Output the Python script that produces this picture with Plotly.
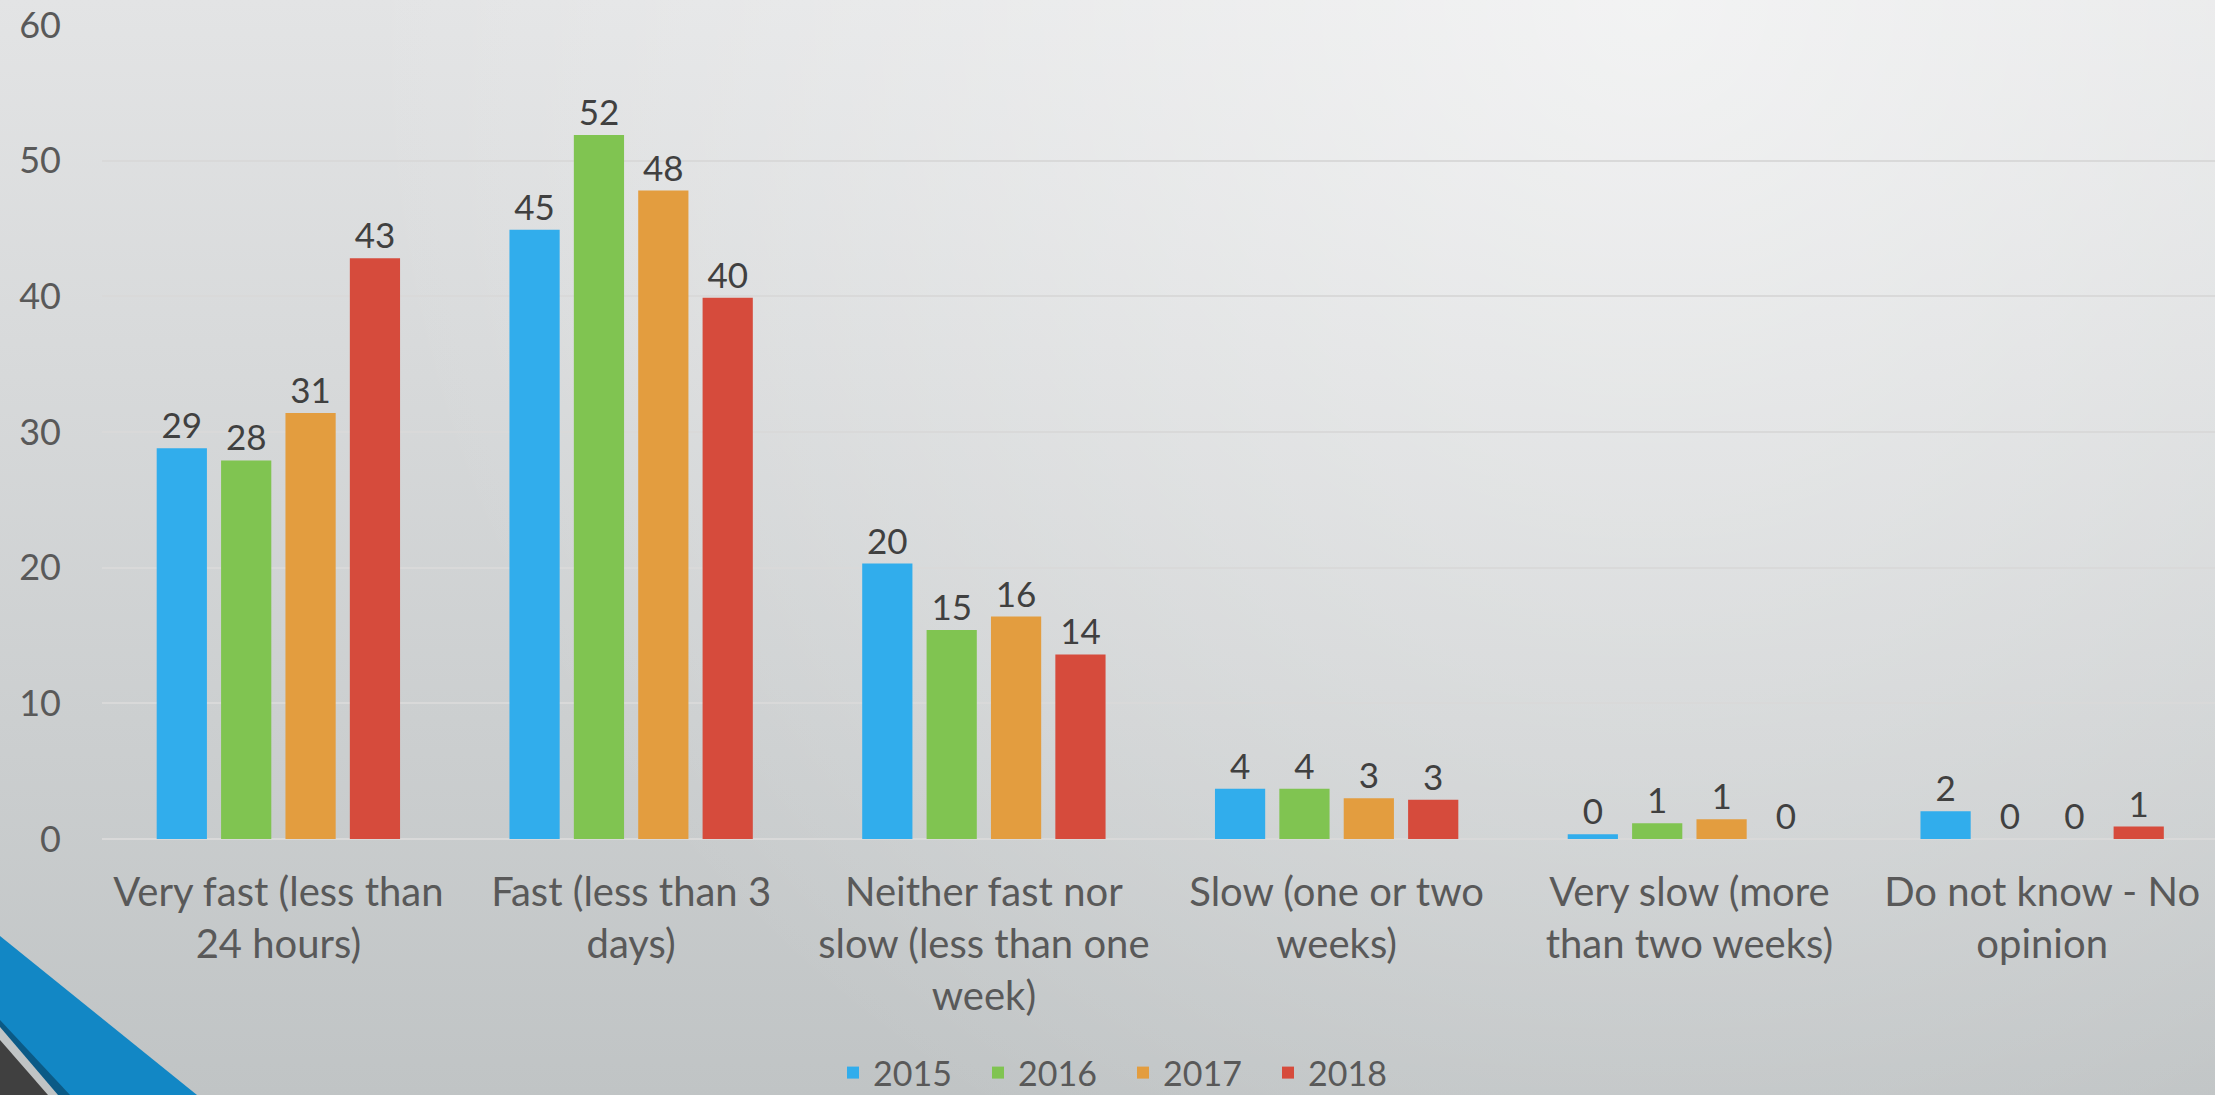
import base64
import plotly.graph_objects as go

# survey answers, share of respondents (%)
categories = [
    "Very fast (less than<br>24 hours)",
    "Fast (less than 3<br>days)",
    "Neither fast nor<br>slow (less than one<br>week)",
    "Slow (one or two<br>weeks)",
    "Very slow (more<br>than two weeks)",
    "Do not know - No<br>opinion",
]
years = ["2015", "2016", "2017", "2018"]
y2015 = [28.8, 44.9, 20.3, 3.7, 0.35, 2.05]
y2016 = [27.9, 51.9, 15.4, 3.7, 1.16, 0]
y2017 = [31.4, 47.8, 16.4, 3.0, 1.45, 0]
y2018 = [42.8, 39.9, 13.6, 2.9, 0, 0.92]
colors = ["#31ADEC", "#80C451", "#E39D3F", "#D64B3C"]

W, H = 2215, 1095
ML, MR, MT, MB = 102, 0, 25, 256

# slide background: grey gradient + blue corner decoration
svg = f"""<svg xmlns="http://www.w3.org/2000/svg" width="{W}" height="{H}" viewBox="0 0 {W} {H}" preserveAspectRatio="none">
<defs>
<linearGradient id="v" x1="0" y1="0" x2="0" y2="1">
<stop offset="0" stop-color="#e3e4e5"/><stop offset="1" stop-color="#c0c4c5"/>
</linearGradient>
<radialGradient id="r" gradientUnits="userSpaceOnUse" cx="1650" cy="0" r="1300">
<stop offset="0" stop-color="#ffffff" stop-opacity="0.55"/><stop offset="1" stop-color="#ffffff" stop-opacity="0"/>
</radialGradient>
</defs>
<rect width="{W}" height="{H}" fill="url(#v)"/>
<rect width="{W}" height="{H}" fill="url(#r)"/>
<polygon points="0,936 197,1095 0,1095" fill="#1287c5"/>
<polygon points="0,1020 70,1095 0,1095" fill="#0b5a86"/>
<polygon points="0,1027 58,1095 0,1095" fill="#c0c4c5"/>
<polygon points="0,1040 48,1095 0,1095" fill="#404040"/>
</svg>"""
bg = "data:image/svg+xml;base64," + base64.b64encode(svg.encode()).decode()

pw = W - ML - MR
ph = H - MT - MB

fig = go.Figure()
for name, vals, c in zip(years, [y2015, y2016, y2017, y2018], colors):
    fig.add_trace(go.Bar(
        x=categories, y=vals, name=name,
        marker=dict(color=c, line=dict(width=0)),
        texttemplate="%{y:.0f}", textposition="outside",
        textfont=dict(family="Lato", size=35, color="#404040"),
        cliponaxis=False,
    ))

fig.update_layout(
    width=W, height=H,
    margin=dict(l=ML, r=MR, t=MT, b=MB, autoexpand=False),
    paper_bgcolor="rgba(0,0,0,0)",
    plot_bgcolor="rgba(0,0,0,0)",
    barmode="group", bargap=0.27, bargroupgap=0.22,
    font=dict(family="Lato", color="#595959"),
    showlegend=True,
    legend=dict(orientation="h", x=(1123 - ML) / pw, xanchor="center",
                y=(H - MB - 1073) / ph, yanchor="middle",
                entrywidth=100, entrywidthmode="pixels",
                font=dict(size=34, color="#595959"), bgcolor="rgba(0,0,0,0)"),
    images=[dict(source=bg, xref="paper", yref="paper",
                 x=-ML / pw, y=(H - MB) / ph, sizex=W / pw, sizey=H / ph,
                 xanchor="left", yanchor="top", sizing="stretch", layer="below")],
)
fig.update_xaxes(range=[-0.5, 5.49], showline=False, showgrid=False,
                 tickfont=dict(size=40, color="#595959"), ticklabelstandoff=26)
fig.update_yaxes(range=[0, 60], dtick=10, showgrid=True, gridcolor="#d9d9d9", gridwidth=2,
                 zeroline=True, zerolinecolor="#d9d9d9", zerolinewidth=2,
                 tickfont=dict(size=36, color="#595959"), ticklabelstandoff=40)

fig.write_html("out.html", config={"displayModeBar": False},
               post_script="document.body.style.margin='0';")
